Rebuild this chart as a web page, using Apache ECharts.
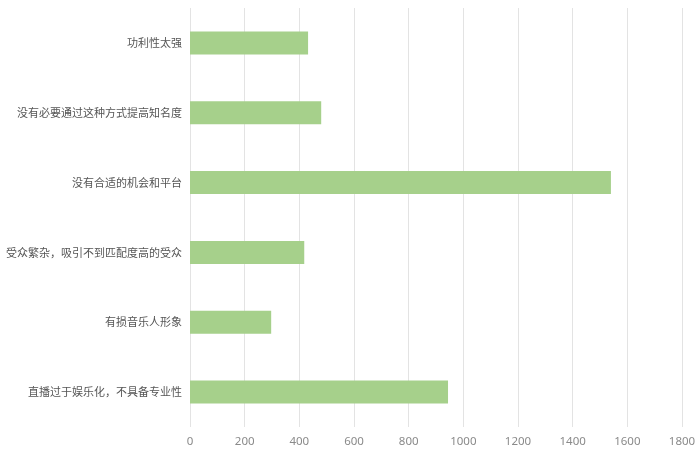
<!DOCTYPE html>
<html>
<head>
<meta charset="utf-8">
<script src="https://cdn.jsdelivr.net/npm/echarts@6/dist/echarts.min.js"></script>
<style>
html, body { margin: 0; padding: 0; background: #fff; }
#chart { width: 700px; height: 453px; }
</style>
</head>
<body>
<div id="chart"></div>
<script>
// 类别（自下而上）
var categories = ['直播过于娱乐化，不具备专业性', '有损音乐人形象', '受众繁杂，吸引不到匹配度高的受众', '没有合适的机会和平台', '没有必要通过这种方式提高知名度', '功利性太强'];
// 数值
var values = [944, 297, 418, 1540, 480, 432];
// x轴范围
var xMin = 0, xMax = 1800, xStep = 200;

var chart = echarts.init(document.getElementById('chart'));
chart.setOption({
	animation: false,
	grid: {
		left: 190,
		right: 18,
		top: 8,
		bottom: 26,
		containLabel: false,
		outerBoundsMode: 'none'
	},
	xAxis: {
		type: 'value',
		min: xMin,
		max: xMax,
		interval: xStep,
		axisLine: { show: false },
		axisTick: { show: false },
		splitLine: { lineStyle: { color: '#e3e3e3', width: 1 } },
		axisLabel: {
			color: '#8a8a8a',
			fontSize: 11.5,
			fontFamily: 'Noto Sans',
			margin: 9,
			formatter: function(v) {
				return String(v);
			}
		}
	},
	yAxis: {
		type: 'category',
		data: categories,
		axisLine: { show: false },
		axisTick: { show: false },
		axisLabel: {
			color: '#555',
			fontSize: 11,
			fontFamily: 'Noto Sans CJK SC',
			margin: 8
		}
	},
	series: [{
		type: 'bar',
		data: values,
		barWidth: 23,
		itemStyle: { color: '#a6d08b' }
	}]
});
</script>
</body>
</html>
